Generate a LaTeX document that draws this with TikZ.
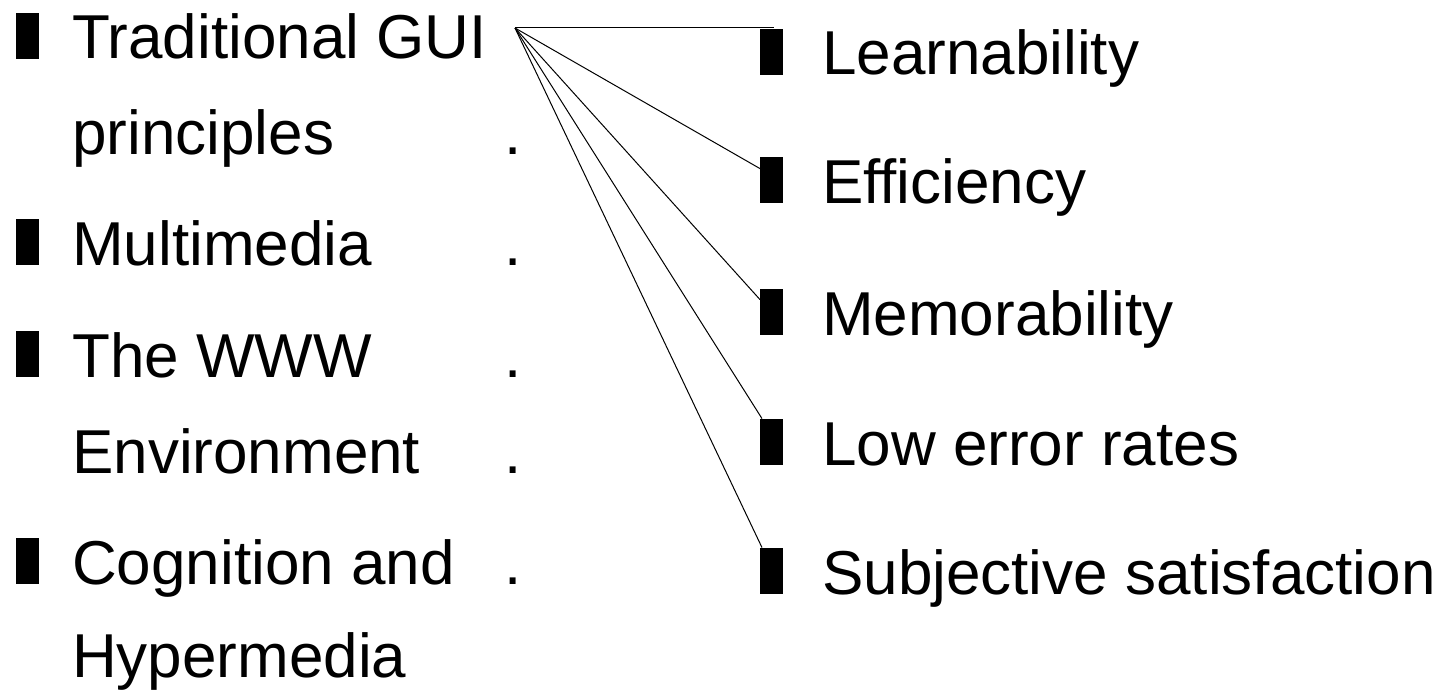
\documentclass[tikz,border=0pt]{standalone}
\usepackage{fontspec}
\setmainfont{Liberation Sans}
\usetikzlibrary{calc}
\begin{document}
\begin{tikzpicture}[x=1pt,y=-1pt,
  lbul/.style={fill=black, draw=none, minimum width=23pt, minimum height=46pt, inner sep=0pt, anchor=south west},
  rbul/.style={fill=black, draw=none, minimum width=23pt, minimum height=46pt, inner sep=0pt, anchor=south west},
  txt/.style={anchor=base west, inner sep=0pt, font=\fontsize{62}{74}\selectfont},
  conn/.style={draw=black, line width=1pt}]
\useasboundingbox (0,0) rectangle (1448,690);
% left column
\node[lbul] (lb1) at (16,59) {};
\node[lbul] (lb2) at (16,265) {};
\node[lbul] (lb3) at (16,377) {};
\node[lbul] (lb4) at (16,584) {};
\node[txt] (l1) at (72,59) {Traditional GUI};
\node[txt] (l2) at (72,154) {principles};
\node[txt] (l3) at (72,265) {Multimedia};
\node[txt] (l4) at (72,377) {The WWW};
\node[txt] (l5) at (72,473) {Environment};
\node[txt] (l6) at (72,584) {Cognition and};
\node[txt] (l7) at (72,677) {Hypermedia};
\node[txt] (d1) at (504,154) {.};
\node[txt] (d2) at (504,265) {.};
\node[txt] (d3) at (504,377) {.};
\node[txt] (d4) at (504,473) {.};
\node[txt] (d5) at (504,584) {.};
% right column
\node[rbul] (rb1) at (760,75) {};
\node[rbul] (rb2) at (760,203) {};
\node[rbul] (rb3) at (760,335) {};
\node[rbul] (rb4) at (760,465) {};
\node[rbul] (rb5) at (760,594) {};
\node[txt] (r1) at (822,75) {Learnability};
\node[txt] (r2) at (822,203) {Efficiency};
\node[txt] (r3) at (822,335) {Memorability};
\node[txt] (r4) at (822,465) {Low error rates};
\node[txt] (r5) at (822,594) {Subjective satisfaction};
% connectors
\coordinate (o) at (515,28);
\draw[conn] (o) -- ($(o -| rb1.north)+(2,0)$);
\draw[conn] (o) -- ($(rb2.north west)+(0,12)$);
\draw[conn] (o) -- ($(rb3.north west)+(0,11)$);
\draw[conn] (o) -- ($(rb4.north west)+(2,0)$);
\draw[conn] (o) -- ($(rb5.north west)+(2,0)$);
\end{tikzpicture}
\end{document}
